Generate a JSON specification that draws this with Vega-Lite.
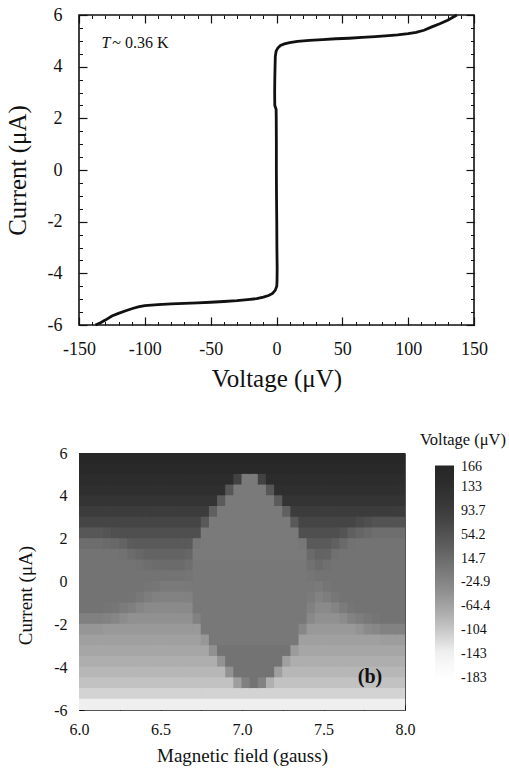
{
"$schema":"https://vega.github.io/schema/vega-lite/v6.json",
"padding":{"left":4,"top":5,"right":0,"bottom":0},
"spacing":39,
"resolve":{"scale":{"color":"independent"},"legend":{"color":"independent"}},
"vconcat":[
{
"width":395,"height":310,
"data":{"values":[
{"v":-137.5,"c":-6},{"v":-134,"c":-5.92},{"v":-130,"c":-5.81},{"v":-125,"c":-5.65},{"v":-120,"c":-5.55},{"v":-115,"c":-5.46},{"v":-110,"c":-5.37},{"v":-105,"c":-5.3},{"v":-100,"c":-5.25},{"v":-90,"c":-5.21},{"v":-80,"c":-5.18},{"v":-70,"c":-5.16},{"v":-60,"c":-5.14},{"v":-50,"c":-5.12},{"v":-40,"c":-5.09},{"v":-30,"c":-5.06},{"v":-22,"c":-5.02},{"v":-15,"c":-4.98},{"v":-10,"c":-4.92},{"v":-6,"c":-4.86},{"v":-3,"c":-4.78},{"v":-1,"c":-4.66},{"v":0.2,"c":-4.5},{"v":0.4,"c":-4.3},{"v":0.5,"c":-3.8},{"v":0.3,"c":-3},{"v":0.2,"c":-2},{"v":0,"c":-1},{"v":-0.1,"c":0},{"v":-0.1,"c":1},{"v":-0.2,"c":2},{"v":-0.3,"c":2.35},{"v":-1.3,"c":2.5},{"v":-1.4,"c":3},{"v":-1.3,"c":3.5},{"v":-1.1,"c":4},{"v":-0.9,"c":4.4},{"v":-0.3,"c":4.6},{"v":1,"c":4.72},{"v":3,"c":4.82},{"v":6,"c":4.88},{"v":10,"c":4.93},{"v":16,"c":4.98},{"v":25,"c":5.02},{"v":35,"c":5.05},{"v":45,"c":5.08},{"v":55,"c":5.1},{"v":65,"c":5.13},{"v":75,"c":5.16},{"v":85,"c":5.2},{"v":92,"c":5.23},{"v":100,"c":5.28},{"v":106,"c":5.33},{"v":112,"c":5.41},{"v":118,"c":5.54},{"v":124,"c":5.66},{"v":130,"c":5.8},{"v":136,"c":5.97},{"v":137,"c":6}
]},
"layer":[
{"mark":{"type":"line","color":"#111","strokeWidth":2.8},
 "encoding":{
  "x":{"field":"v","type":"quantitative","scale":{"domain":[-150,150],"nice":false,"zero":false},
   "axis":{"orient":"bottom","values":[-150,-100,-50,0,50,100,150],"tickSize":-8,"tickWidth":1.2,"labelPadding":23,"labelFontSize":18,"labelExpr":"''+datum.value","labelFlush":false,"labelOverlap":false,"title":"Voltage (μV)","titleFontSize":25,"titlePadding":8}},
  "y":{"field":"c","type":"quantitative","scale":{"domain":[-6,6],"nice":false,"zero":false},
   "axis":{"orient":"left","values":[-6,-4,-2,0,2,4,6],"tickSize":-8,"tickWidth":1.2,"labelPadding":25,"labelFontSize":18,"labelExpr":"''+datum.value","labelFlush":false,"labelOverlap":false,"title":"Current (μA)","titleFontSize":25,"titlePadding":17}},
  "order":{"field":"c","type":"quantitative"}}},
{"mark":{"type":"line","strokeOpacity":0},
 "encoding":{
  "x":{"field":"v","type":"quantitative","scale":{"domain":[-150,150],"nice":false,"zero":false},
   "axis":{"orient":"bottom","values":[-150,-140,-130,-120,-110,-100,-90,-80,-70,-60,-50,-40,-30,-20,-10,0,10,20,30,40,50,60,70,80,90,100,110,120,130,140,150],"tickSize":-3.5,"labels":false,"title":null}},
  "y":{"field":"c","type":"quantitative","scale":{"domain":[-6,6],"nice":false,"zero":false},
   "axis":{"orient":"left","values":[-6,-5.5,-5,-4.5,-4,-3.5,-3,-2.5,-2,-1.5,-1,-0.5,0,0.5,1,1.5,2,2.5,3,3.5,4,4.5,5,5.5,6],"tickSize":-3.5,"labels":false,"title":null}}}},
{"mark":{"type":"line","strokeOpacity":0},
 "encoding":{
  "x":{"field":"v","type":"quantitative","scale":{"domain":[-150,150],"nice":false,"zero":false},
   "axis":{"orient":"top","values":[-150,-100,-50,0,50,100,150],"tickSize":-8,"tickWidth":1.2,"labels":false,"title":null}},
  "y":{"field":"c","type":"quantitative","scale":{"domain":[-6,6],"nice":false,"zero":false},
   "axis":{"orient":"right","values":[-6,-4,-2,0,2,4,6],"tickSize":-8,"tickWidth":1.2,"labels":false,"title":null}}}},
{"mark":{"type":"line","strokeOpacity":0},
 "encoding":{
  "x":{"field":"v","type":"quantitative","scale":{"domain":[-150,150],"nice":false,"zero":false},
   "axis":{"orient":"top","values":[-150,-140,-130,-120,-110,-100,-90,-80,-70,-60,-50,-40,-30,-20,-10,0,10,20,30,40,50,60,70,80,90,100,110,120,130,140,150],"tickSize":-3.5,"labels":false,"title":null}},
  "y":{"field":"c","type":"quantitative","scale":{"domain":[-6,6],"nice":false,"zero":false},
   "axis":{"orient":"right","values":[-6,-5.5,-5,-4.5,-4,-3.5,-3,-2.5,-2,-1.5,-1,-0.5,0,0.5,1,1.5,2,2.5,3,3.5,4,4.5,5,5.5,6],"tickSize":-3.5,"labels":false,"title":null}}}},
{"data":{"values":[{}]},
 "mark":{"type":"text","text":"T","fontStyle":"italic","fontSize":16,"align":"left","baseline":"alphabetic","color":"#111"},
 "encoding":{"x":{"datum":-133,"type":"quantitative","axis":null},"y":{"datum":4.72,"type":"quantitative","axis":null}}},
{"data":{"values":[{}]},
 "mark":{"type":"text","text":"~ 0.36 K","fontSize":16,"align":"left","baseline":"alphabetic","color":"#111"},
 "encoding":{"x":{"datum":-124.7,"type":"quantitative","axis":null},"y":{"datum":4.72,"type":"quantitative","axis":null}}}
],
"resolve":{"axis":{"x":"independent","y":"independent"}}
},
{
"width":326,"height":257,
"view":{"stroke":"#555","strokeWidth":1},
"data":{"values":[
{"b":6.025,"i":5.75,"v":165},{"b":6.025,"i":5.25,"v":155},{"b":6.025,"i":4.75,"v":143},{"b":6.025,"i":4.25,"v":130},{"b":6.025,"i":3.75,"v":115},{"b":6.025,"i":3.25,"v":95},{"b":6.025,"i":2.75,"v":78},{"b":6.025,"i":2.25,"v":46},{"b":6.025,"i":1.75,"v":13},{"b":6.025,"i":1.25,"v":3},{"b":6.025,"i":0.75,"v":3},{"b":6.025,"i":0.25,"v":3},{"b":6.025,"i":-0.25,"v":3},{"b":6.025,"i":-0.75,"v":3},{"b":6.025,"i":-1.25,"v":3},{"b":6.025,"i":-1.75,"v":-17},{"b":6.025,"i":-2.25,"v":-48},{"b":6.025,"i":-2.75,"v":-60},{"b":6.025,"i":-3.25,"v":-68},{"b":6.025,"i":-3.75,"v":-76},{"b":6.025,"i":-4.25,"v":-86},{"b":6.025,"i":-4.75,"v":-98},{"b":6.025,"i":-5.25,"v":-114},{"b":6.025,"i":-5.75,"v":-140},
{"b":6.075,"i":5.75,"v":165},{"b":6.075,"i":5.25,"v":155},{"b":6.075,"i":4.75,"v":143},{"b":6.075,"i":4.25,"v":130},{"b":6.075,"i":3.75,"v":115},{"b":6.075,"i":3.25,"v":95},{"b":6.075,"i":2.75,"v":78},{"b":6.075,"i":2.25,"v":46},{"b":6.075,"i":1.75,"v":13},{"b":6.075,"i":1.25,"v":3},{"b":6.075,"i":0.75,"v":3},{"b":6.075,"i":0.25,"v":3},{"b":6.075,"i":-0.25,"v":3},{"b":6.075,"i":-0.75,"v":3},{"b":6.075,"i":-1.25,"v":3},{"b":6.075,"i":-1.75,"v":-17},{"b":6.075,"i":-2.25,"v":-48},{"b":6.075,"i":-2.75,"v":-60},{"b":6.075,"i":-3.25,"v":-68},{"b":6.075,"i":-3.75,"v":-76},{"b":6.075,"i":-4.25,"v":-86},{"b":6.075,"i":-4.75,"v":-98},{"b":6.075,"i":-5.25,"v":-114},{"b":6.075,"i":-5.75,"v":-140},
{"b":6.125,"i":5.75,"v":165},{"b":6.125,"i":5.25,"v":155},{"b":6.125,"i":4.75,"v":143},{"b":6.125,"i":4.25,"v":130},{"b":6.125,"i":3.75,"v":115},{"b":6.125,"i":3.25,"v":95},{"b":6.125,"i":2.75,"v":78},{"b":6.125,"i":2.25,"v":46},{"b":6.125,"i":1.75,"v":13},{"b":6.125,"i":1.25,"v":3},{"b":6.125,"i":0.75,"v":3},{"b":6.125,"i":0.25,"v":3},{"b":6.125,"i":-0.25,"v":3},{"b":6.125,"i":-0.75,"v":3},{"b":6.125,"i":-1.25,"v":3},{"b":6.125,"i":-1.75,"v":-17},{"b":6.125,"i":-2.25,"v":-48},{"b":6.125,"i":-2.75,"v":-60},{"b":6.125,"i":-3.25,"v":-68},{"b":6.125,"i":-3.75,"v":-76},{"b":6.125,"i":-4.25,"v":-86},{"b":6.125,"i":-4.75,"v":-98},{"b":6.125,"i":-5.25,"v":-114},{"b":6.125,"i":-5.75,"v":-140},
{"b":6.175,"i":5.75,"v":165},{"b":6.175,"i":5.25,"v":155},{"b":6.175,"i":4.75,"v":143},{"b":6.175,"i":4.25,"v":130},{"b":6.175,"i":3.75,"v":115},{"b":6.175,"i":3.25,"v":95},{"b":6.175,"i":2.75,"v":78},{"b":6.175,"i":2.25,"v":51},{"b":6.175,"i":1.75,"v":17},{"b":6.175,"i":1.25,"v":3},{"b":6.175,"i":0.75,"v":3},{"b":6.175,"i":0.25,"v":3},{"b":6.175,"i":-0.25,"v":3},{"b":6.175,"i":-0.75,"v":3},{"b":6.175,"i":-1.25,"v":1},{"b":6.175,"i":-1.75,"v":-21},{"b":6.175,"i":-2.25,"v":-51},{"b":6.175,"i":-2.75,"v":-60},{"b":6.175,"i":-3.25,"v":-68},{"b":6.175,"i":-3.75,"v":-76},{"b":6.175,"i":-4.25,"v":-86},{"b":6.175,"i":-4.75,"v":-98},{"b":6.175,"i":-5.25,"v":-114},{"b":6.175,"i":-5.75,"v":-140},
{"b":6.225,"i":5.75,"v":165},{"b":6.225,"i":5.25,"v":155},{"b":6.225,"i":4.75,"v":143},{"b":6.225,"i":4.25,"v":130},{"b":6.225,"i":3.75,"v":115},{"b":6.225,"i":3.25,"v":95},{"b":6.225,"i":2.75,"v":78},{"b":6.225,"i":2.25,"v":57},{"b":6.225,"i":1.75,"v":21},{"b":6.225,"i":1.25,"v":3},{"b":6.225,"i":0.75,"v":3},{"b":6.225,"i":0.25,"v":3},{"b":6.225,"i":-0.25,"v":3},{"b":6.225,"i":-0.75,"v":3},{"b":6.225,"i":-1.25,"v":-2},{"b":6.225,"i":-1.75,"v":-26},{"b":6.225,"i":-2.25,"v":-51},{"b":6.225,"i":-2.75,"v":-60},{"b":6.225,"i":-3.25,"v":-68},{"b":6.225,"i":-3.75,"v":-76},{"b":6.225,"i":-4.25,"v":-86},{"b":6.225,"i":-4.75,"v":-98},{"b":6.225,"i":-5.25,"v":-114},{"b":6.225,"i":-5.75,"v":-140},
{"b":6.275,"i":5.75,"v":165},{"b":6.275,"i":5.25,"v":155},{"b":6.275,"i":4.75,"v":143},{"b":6.275,"i":4.25,"v":130},{"b":6.275,"i":3.75,"v":115},{"b":6.275,"i":3.25,"v":95},{"b":6.275,"i":2.75,"v":78},{"b":6.275,"i":2.25,"v":60},{"b":6.275,"i":1.75,"v":28},{"b":6.275,"i":1.25,"v":7},{"b":6.275,"i":0.75,"v":3},{"b":6.275,"i":0.25,"v":3},{"b":6.275,"i":-0.25,"v":3},{"b":6.275,"i":-0.75,"v":3},{"b":6.275,"i":-1.25,"v":-9},{"b":6.275,"i":-1.75,"v":-34},{"b":6.275,"i":-2.25,"v":-51},{"b":6.275,"i":-2.75,"v":-60},{"b":6.275,"i":-3.25,"v":-68},{"b":6.275,"i":-3.75,"v":-76},{"b":6.275,"i":-4.25,"v":-86},{"b":6.275,"i":-4.75,"v":-98},{"b":6.275,"i":-5.25,"v":-114},{"b":6.275,"i":-5.75,"v":-140},
{"b":6.325,"i":5.75,"v":165},{"b":6.325,"i":5.25,"v":155},{"b":6.325,"i":4.75,"v":143},{"b":6.325,"i":4.25,"v":130},{"b":6.325,"i":3.75,"v":115},{"b":6.325,"i":3.25,"v":95},{"b":6.325,"i":2.75,"v":78},{"b":6.325,"i":2.25,"v":60},{"b":6.325,"i":1.75,"v":40},{"b":6.325,"i":1.25,"v":14},{"b":6.325,"i":0.75,"v":3},{"b":6.325,"i":0.25,"v":3},{"b":6.325,"i":-0.25,"v":3},{"b":6.325,"i":-0.75,"v":2},{"b":6.325,"i":-1.25,"v":-16},{"b":6.325,"i":-1.75,"v":-41},{"b":6.325,"i":-2.25,"v":-51},{"b":6.325,"i":-2.75,"v":-60},{"b":6.325,"i":-3.25,"v":-68},{"b":6.325,"i":-3.75,"v":-76},{"b":6.325,"i":-4.25,"v":-86},{"b":6.325,"i":-4.75,"v":-98},{"b":6.325,"i":-5.25,"v":-114},{"b":6.325,"i":-5.75,"v":-140},
{"b":6.375,"i":5.75,"v":165},{"b":6.375,"i":5.25,"v":155},{"b":6.375,"i":4.75,"v":143},{"b":6.375,"i":4.25,"v":130},{"b":6.375,"i":3.75,"v":115},{"b":6.375,"i":3.25,"v":95},{"b":6.375,"i":2.75,"v":78},{"b":6.375,"i":2.25,"v":60},{"b":6.375,"i":1.75,"v":42},{"b":6.375,"i":1.25,"v":22},{"b":6.375,"i":0.75,"v":6},{"b":6.375,"i":0.25,"v":3},{"b":6.375,"i":-0.25,"v":3},{"b":6.375,"i":-0.75,"v":-5},{"b":6.375,"i":-1.25,"v":-26},{"b":6.375,"i":-1.75,"v":-41},{"b":6.375,"i":-2.25,"v":-51},{"b":6.375,"i":-2.75,"v":-60},{"b":6.375,"i":-3.25,"v":-68},{"b":6.375,"i":-3.75,"v":-76},{"b":6.375,"i":-4.25,"v":-86},{"b":6.375,"i":-4.75,"v":-98},{"b":6.375,"i":-5.25,"v":-114},{"b":6.375,"i":-5.75,"v":-140},
{"b":6.425,"i":5.75,"v":165},{"b":6.425,"i":5.25,"v":155},{"b":6.425,"i":4.75,"v":143},{"b":6.425,"i":4.25,"v":130},{"b":6.425,"i":3.75,"v":115},{"b":6.425,"i":3.25,"v":95},{"b":6.425,"i":2.75,"v":78},{"b":6.425,"i":2.25,"v":60},{"b":6.425,"i":1.75,"v":42},{"b":6.425,"i":1.25,"v":28},{"b":6.425,"i":0.75,"v":11},{"b":6.425,"i":0.25,"v":3},{"b":6.425,"i":-0.25,"v":1},{"b":6.425,"i":-0.75,"v":-12},{"b":6.425,"i":-1.25,"v":-31},{"b":6.425,"i":-1.75,"v":-41},{"b":6.425,"i":-2.25,"v":-51},{"b":6.425,"i":-2.75,"v":-60},{"b":6.425,"i":-3.25,"v":-68},{"b":6.425,"i":-3.75,"v":-76},{"b":6.425,"i":-4.25,"v":-86},{"b":6.425,"i":-4.75,"v":-98},{"b":6.425,"i":-5.25,"v":-114},{"b":6.425,"i":-5.75,"v":-140},
{"b":6.475,"i":5.75,"v":165},{"b":6.475,"i":5.25,"v":155},{"b":6.475,"i":4.75,"v":143},{"b":6.475,"i":4.25,"v":130},{"b":6.475,"i":3.75,"v":115},{"b":6.475,"i":3.25,"v":95},{"b":6.475,"i":2.75,"v":78},{"b":6.475,"i":2.25,"v":60},{"b":6.475,"i":1.75,"v":42},{"b":6.475,"i":1.25,"v":28},{"b":6.475,"i":0.75,"v":15},{"b":6.475,"i":0.25,"v":3},{"b":6.475,"i":-0.25,"v":-2},{"b":6.475,"i":-0.75,"v":-19},{"b":6.475,"i":-1.25,"v":-31},{"b":6.475,"i":-1.75,"v":-41},{"b":6.475,"i":-2.25,"v":-51},{"b":6.475,"i":-2.75,"v":-60},{"b":6.475,"i":-3.25,"v":-68},{"b":6.475,"i":-3.75,"v":-76},{"b":6.475,"i":-4.25,"v":-86},{"b":6.475,"i":-4.75,"v":-98},{"b":6.475,"i":-5.25,"v":-114},{"b":6.475,"i":-5.75,"v":-140},
{"b":6.525,"i":5.75,"v":165},{"b":6.525,"i":5.25,"v":155},{"b":6.525,"i":4.75,"v":143},{"b":6.525,"i":4.25,"v":130},{"b":6.525,"i":3.75,"v":115},{"b":6.525,"i":3.25,"v":95},{"b":6.525,"i":2.75,"v":78},{"b":6.525,"i":2.25,"v":60},{"b":6.525,"i":1.75,"v":42},{"b":6.525,"i":1.25,"v":28},{"b":6.525,"i":0.75,"v":16},{"b":6.525,"i":0.25,"v":4},{"b":6.525,"i":-0.25,"v":-8},{"b":6.525,"i":-0.75,"v":-20},{"b":6.525,"i":-1.25,"v":-31},{"b":6.525,"i":-1.75,"v":-41},{"b":6.525,"i":-2.25,"v":-51},{"b":6.525,"i":-2.75,"v":-60},{"b":6.525,"i":-3.25,"v":-68},{"b":6.525,"i":-3.75,"v":-76},{"b":6.525,"i":-4.25,"v":-86},{"b":6.525,"i":-4.75,"v":-98},{"b":6.525,"i":-5.25,"v":-114},{"b":6.525,"i":-5.75,"v":-140},
{"b":6.575,"i":5.75,"v":165},{"b":6.575,"i":5.25,"v":155},{"b":6.575,"i":4.75,"v":143},{"b":6.575,"i":4.25,"v":130},{"b":6.575,"i":3.75,"v":115},{"b":6.575,"i":3.25,"v":95},{"b":6.575,"i":2.75,"v":78},{"b":6.575,"i":2.25,"v":60},{"b":6.575,"i":1.75,"v":42},{"b":6.575,"i":1.25,"v":28},{"b":6.575,"i":0.75,"v":16},{"b":6.575,"i":0.25,"v":4},{"b":6.575,"i":-0.25,"v":-8},{"b":6.575,"i":-0.75,"v":-20},{"b":6.575,"i":-1.25,"v":-31},{"b":6.575,"i":-1.75,"v":-41},{"b":6.575,"i":-2.25,"v":-51},{"b":6.575,"i":-2.75,"v":-60},{"b":6.575,"i":-3.25,"v":-68},{"b":6.575,"i":-3.75,"v":-76},{"b":6.575,"i":-4.25,"v":-86},{"b":6.575,"i":-4.75,"v":-98},{"b":6.575,"i":-5.25,"v":-114},{"b":6.575,"i":-5.75,"v":-140},
{"b":6.625,"i":5.75,"v":165},{"b":6.625,"i":5.25,"v":155},{"b":6.625,"i":4.75,"v":143},{"b":6.625,"i":4.25,"v":130},{"b":6.625,"i":3.75,"v":115},{"b":6.625,"i":3.25,"v":95},{"b":6.625,"i":2.75,"v":78},{"b":6.625,"i":2.25,"v":60},{"b":6.625,"i":1.75,"v":42},{"b":6.625,"i":1.25,"v":28},{"b":6.625,"i":0.75,"v":16},{"b":6.625,"i":0.25,"v":4},{"b":6.625,"i":-0.25,"v":-8},{"b":6.625,"i":-0.75,"v":-20},{"b":6.625,"i":-1.25,"v":-31},{"b":6.625,"i":-1.75,"v":-41},{"b":6.625,"i":-2.25,"v":-51},{"b":6.625,"i":-2.75,"v":-60},{"b":6.625,"i":-3.25,"v":-68},{"b":6.625,"i":-3.75,"v":-76},{"b":6.625,"i":-4.25,"v":-86},{"b":6.625,"i":-4.75,"v":-98},{"b":6.625,"i":-5.25,"v":-114},{"b":6.625,"i":-5.75,"v":-140},
{"b":6.675,"i":5.75,"v":165},{"b":6.675,"i":5.25,"v":155},{"b":6.675,"i":4.75,"v":143},{"b":6.675,"i":4.25,"v":130},{"b":6.675,"i":3.75,"v":115},{"b":6.675,"i":3.25,"v":95},{"b":6.675,"i":2.75,"v":78},{"b":6.675,"i":2.25,"v":60},{"b":6.675,"i":1.75,"v":42},{"b":6.675,"i":1.25,"v":23},{"b":6.675,"i":0.75,"v":10},{"b":6.675,"i":0.25,"v":1},{"b":6.675,"i":-0.25,"v":-6},{"b":6.675,"i":-0.75,"v":-18},{"b":6.675,"i":-1.25,"v":-31},{"b":6.675,"i":-1.75,"v":-41},{"b":6.675,"i":-2.25,"v":-51},{"b":6.675,"i":-2.75,"v":-60},{"b":6.675,"i":-3.25,"v":-68},{"b":6.675,"i":-3.75,"v":-76},{"b":6.675,"i":-4.25,"v":-86},{"b":6.675,"i":-4.75,"v":-98},{"b":6.675,"i":-5.25,"v":-114},{"b":6.675,"i":-5.75,"v":-140},
{"b":6.725,"i":5.75,"v":165},{"b":6.725,"i":5.25,"v":155},{"b":6.725,"i":4.75,"v":143},{"b":6.725,"i":4.25,"v":130},{"b":6.725,"i":3.75,"v":115},{"b":6.725,"i":3.25,"v":95},{"b":6.725,"i":2.75,"v":78},{"b":6.725,"i":2.25,"v":60},{"b":6.725,"i":1.75,"v":-3},{"b":6.725,"i":1.25,"v":-8},{"b":6.725,"i":0.75,"v":-4},{"b":6.725,"i":0.25,"v":-4},{"b":6.725,"i":-0.25,"v":-4},{"b":6.725,"i":-0.75,"v":-4},{"b":6.725,"i":-1.25,"v":-4},{"b":6.725,"i":-1.75,"v":-19},{"b":6.725,"i":-2.25,"v":-51},{"b":6.725,"i":-2.75,"v":-60},{"b":6.725,"i":-3.25,"v":-68},{"b":6.725,"i":-3.75,"v":-76},{"b":6.725,"i":-4.25,"v":-86},{"b":6.725,"i":-4.75,"v":-98},{"b":6.725,"i":-5.25,"v":-114},{"b":6.725,"i":-5.75,"v":-140},
{"b":6.775,"i":5.75,"v":165},{"b":6.775,"i":5.25,"v":155},{"b":6.775,"i":4.75,"v":143},{"b":6.775,"i":4.25,"v":130},{"b":6.775,"i":3.75,"v":115},{"b":6.775,"i":3.25,"v":95},{"b":6.775,"i":2.75,"v":44},{"b":6.775,"i":2.25,"v":-8},{"b":6.775,"i":1.75,"v":-8},{"b":6.775,"i":1.25,"v":-8},{"b":6.775,"i":0.75,"v":-4},{"b":6.775,"i":0.25,"v":-4},{"b":6.775,"i":-0.25,"v":-4},{"b":6.775,"i":-0.75,"v":-4},{"b":6.775,"i":-1.25,"v":-4},{"b":6.775,"i":-1.75,"v":-4},{"b":6.775,"i":-2.25,"v":-4},{"b":6.775,"i":-2.75,"v":-49},{"b":6.775,"i":-3.25,"v":-68},{"b":6.775,"i":-3.75,"v":-76},{"b":6.775,"i":-4.25,"v":-86},{"b":6.775,"i":-4.75,"v":-98},{"b":6.775,"i":-5.25,"v":-114},{"b":6.775,"i":-5.75,"v":-140},
{"b":6.825,"i":5.75,"v":165},{"b":6.825,"i":5.25,"v":155},{"b":6.825,"i":4.75,"v":143},{"b":6.825,"i":4.25,"v":130},{"b":6.825,"i":3.75,"v":115},{"b":6.825,"i":3.25,"v":33},{"b":6.825,"i":2.75,"v":-8},{"b":6.825,"i":2.25,"v":-8},{"b":6.825,"i":1.75,"v":-8},{"b":6.825,"i":1.25,"v":-8},{"b":6.825,"i":0.75,"v":-4},{"b":6.825,"i":0.25,"v":-4},{"b":6.825,"i":-0.25,"v":-4},{"b":6.825,"i":-0.75,"v":-4},{"b":6.825,"i":-1.25,"v":-4},{"b":6.825,"i":-1.75,"v":-4},{"b":6.825,"i":-2.25,"v":-4},{"b":6.825,"i":-2.75,"v":-4},{"b":6.825,"i":-3.25,"v":-40},{"b":6.825,"i":-3.75,"v":-76},{"b":6.825,"i":-4.25,"v":-86},{"b":6.825,"i":-4.75,"v":-98},{"b":6.825,"i":-5.25,"v":-114},{"b":6.825,"i":-5.75,"v":-140},
{"b":6.875,"i":5.75,"v":165},{"b":6.875,"i":5.25,"v":155},{"b":6.875,"i":4.75,"v":143},{"b":6.875,"i":4.25,"v":130},{"b":6.875,"i":3.75,"v":41},{"b":6.875,"i":3.25,"v":-8},{"b":6.875,"i":2.75,"v":-8},{"b":6.875,"i":2.25,"v":-8},{"b":6.875,"i":1.75,"v":-8},{"b":6.875,"i":1.25,"v":-8},{"b":6.875,"i":0.75,"v":-4},{"b":6.875,"i":0.25,"v":-4},{"b":6.875,"i":-0.25,"v":-4},{"b":6.875,"i":-0.75,"v":-4},{"b":6.875,"i":-1.25,"v":-4},{"b":6.875,"i":-1.75,"v":-4},{"b":6.875,"i":-2.25,"v":-4},{"b":6.875,"i":-2.75,"v":-4},{"b":6.875,"i":-3.25,"v":3},{"b":6.875,"i":-3.75,"v":-44},{"b":6.875,"i":-4.25,"v":-86},{"b":6.875,"i":-4.75,"v":-98},{"b":6.875,"i":-5.25,"v":-114},{"b":6.875,"i":-5.75,"v":-140},
{"b":6.925,"i":5.75,"v":165},{"b":6.925,"i":5.25,"v":155},{"b":6.925,"i":4.75,"v":143},{"b":6.925,"i":4.25,"v":47},{"b":6.925,"i":3.75,"v":-8},{"b":6.925,"i":3.25,"v":-8},{"b":6.925,"i":2.75,"v":-8},{"b":6.925,"i":2.25,"v":-8},{"b":6.925,"i":1.75,"v":-8},{"b":6.925,"i":1.25,"v":-8},{"b":6.925,"i":0.75,"v":-4},{"b":6.925,"i":0.25,"v":-4},{"b":6.925,"i":-0.25,"v":-4},{"b":6.925,"i":-0.75,"v":-4},{"b":6.925,"i":-1.25,"v":-4},{"b":6.925,"i":-1.75,"v":-4},{"b":6.925,"i":-2.25,"v":-4},{"b":6.925,"i":-2.75,"v":-4},{"b":6.925,"i":-3.25,"v":3},{"b":6.925,"i":-3.75,"v":3},{"b":6.925,"i":-4.25,"v":-42},{"b":6.925,"i":-4.75,"v":-98},{"b":6.925,"i":-5.25,"v":-114},{"b":6.925,"i":-5.75,"v":-140},
{"b":6.975,"i":5.75,"v":165},{"b":6.975,"i":5.25,"v":155},{"b":6.975,"i":4.75,"v":83},{"b":6.975,"i":4.25,"v":-8},{"b":6.975,"i":3.75,"v":-8},{"b":6.975,"i":3.25,"v":-8},{"b":6.975,"i":2.75,"v":-8},{"b":6.975,"i":2.25,"v":-8},{"b":6.975,"i":1.75,"v":-8},{"b":6.975,"i":1.25,"v":-8},{"b":6.975,"i":0.75,"v":-4},{"b":6.975,"i":0.25,"v":-4},{"b":6.975,"i":-0.25,"v":-4},{"b":6.975,"i":-0.75,"v":-4},{"b":6.975,"i":-1.25,"v":-4},{"b":6.975,"i":-1.75,"v":-4},{"b":6.975,"i":-2.25,"v":-4},{"b":6.975,"i":-2.75,"v":-4},{"b":6.975,"i":-3.25,"v":3},{"b":6.975,"i":-3.75,"v":3},{"b":6.975,"i":-4.25,"v":3},{"b":6.975,"i":-4.75,"v":-58},{"b":6.975,"i":-5.25,"v":-114},{"b":6.975,"i":-5.75,"v":-140},
{"b":7.025,"i":5.75,"v":165},{"b":7.025,"i":5.25,"v":155},{"b":7.025,"i":4.75,"v":-8},{"b":7.025,"i":4.25,"v":-8},{"b":7.025,"i":3.75,"v":-8},{"b":7.025,"i":3.25,"v":-8},{"b":7.025,"i":2.75,"v":-8},{"b":7.025,"i":2.25,"v":-8},{"b":7.025,"i":1.75,"v":-8},{"b":7.025,"i":1.25,"v":-8},{"b":7.025,"i":0.75,"v":-4},{"b":7.025,"i":0.25,"v":-4},{"b":7.025,"i":-0.25,"v":-4},{"b":7.025,"i":-0.75,"v":-4},{"b":7.025,"i":-1.25,"v":-4},{"b":7.025,"i":-1.75,"v":-4},{"b":7.025,"i":-2.25,"v":-4},{"b":7.025,"i":-2.75,"v":-4},{"b":7.025,"i":-3.25,"v":3},{"b":7.025,"i":-3.75,"v":3},{"b":7.025,"i":-4.25,"v":3},{"b":7.025,"i":-4.75,"v":-17},{"b":7.025,"i":-5.25,"v":-114},{"b":7.025,"i":-5.75,"v":-140},
{"b":7.075,"i":5.75,"v":165},{"b":7.075,"i":5.25,"v":155},{"b":7.075,"i":4.75,"v":-8},{"b":7.075,"i":4.25,"v":-8},{"b":7.075,"i":3.75,"v":-8},{"b":7.075,"i":3.25,"v":-8},{"b":7.075,"i":2.75,"v":-8},{"b":7.075,"i":2.25,"v":-8},{"b":7.075,"i":1.75,"v":-8},{"b":7.075,"i":1.25,"v":-8},{"b":7.075,"i":0.75,"v":-4},{"b":7.075,"i":0.25,"v":-4},{"b":7.075,"i":-0.25,"v":-4},{"b":7.075,"i":-0.75,"v":-4},{"b":7.075,"i":-1.25,"v":-4},{"b":7.075,"i":-1.75,"v":-4},{"b":7.075,"i":-2.25,"v":-4},{"b":7.075,"i":-2.75,"v":-4},{"b":7.075,"i":-3.25,"v":3},{"b":7.075,"i":-3.75,"v":3},{"b":7.075,"i":-4.25,"v":3},{"b":7.075,"i":-4.75,"v":3},{"b":7.075,"i":-5.25,"v":-114},{"b":7.075,"i":-5.75,"v":-140},
{"b":7.125,"i":5.75,"v":165},{"b":7.125,"i":5.25,"v":155},{"b":7.125,"i":4.75,"v":83},{"b":7.125,"i":4.25,"v":-8},{"b":7.125,"i":3.75,"v":-8},{"b":7.125,"i":3.25,"v":-8},{"b":7.125,"i":2.75,"v":-8},{"b":7.125,"i":2.25,"v":-8},{"b":7.125,"i":1.75,"v":-8},{"b":7.125,"i":1.25,"v":-8},{"b":7.125,"i":0.75,"v":-4},{"b":7.125,"i":0.25,"v":-4},{"b":7.125,"i":-0.25,"v":-4},{"b":7.125,"i":-0.75,"v":-4},{"b":7.125,"i":-1.25,"v":-4},{"b":7.125,"i":-1.75,"v":-4},{"b":7.125,"i":-2.25,"v":-4},{"b":7.125,"i":-2.75,"v":-4},{"b":7.125,"i":-3.25,"v":3},{"b":7.125,"i":-3.75,"v":3},{"b":7.125,"i":-4.25,"v":3},{"b":7.125,"i":-4.75,"v":-21},{"b":7.125,"i":-5.25,"v":-114},{"b":7.125,"i":-5.75,"v":-140},
{"b":7.175,"i":5.75,"v":165},{"b":7.175,"i":5.25,"v":155},{"b":7.175,"i":4.75,"v":143},{"b":7.175,"i":4.25,"v":47},{"b":7.175,"i":3.75,"v":-8},{"b":7.175,"i":3.25,"v":-8},{"b":7.175,"i":2.75,"v":-8},{"b":7.175,"i":2.25,"v":-8},{"b":7.175,"i":1.75,"v":-8},{"b":7.175,"i":1.25,"v":-8},{"b":7.175,"i":0.75,"v":-4},{"b":7.175,"i":0.25,"v":-4},{"b":7.175,"i":-0.25,"v":-4},{"b":7.175,"i":-0.75,"v":-4},{"b":7.175,"i":-1.25,"v":-4},{"b":7.175,"i":-1.75,"v":-4},{"b":7.175,"i":-2.25,"v":-4},{"b":7.175,"i":-2.75,"v":-4},{"b":7.175,"i":-3.25,"v":3},{"b":7.175,"i":-3.75,"v":3},{"b":7.175,"i":-4.25,"v":3},{"b":7.175,"i":-4.75,"v":-78},{"b":7.175,"i":-5.25,"v":-114},{"b":7.175,"i":-5.75,"v":-140},
{"b":7.225,"i":5.75,"v":165},{"b":7.225,"i":5.25,"v":155},{"b":7.225,"i":4.75,"v":143},{"b":7.225,"i":4.25,"v":130},{"b":7.225,"i":3.75,"v":41},{"b":7.225,"i":3.25,"v":-8},{"b":7.225,"i":2.75,"v":-8},{"b":7.225,"i":2.25,"v":-8},{"b":7.225,"i":1.75,"v":-8},{"b":7.225,"i":1.25,"v":-8},{"b":7.225,"i":0.75,"v":-4},{"b":7.225,"i":0.25,"v":-4},{"b":7.225,"i":-0.25,"v":-4},{"b":7.225,"i":-0.75,"v":-4},{"b":7.225,"i":-1.25,"v":-4},{"b":7.225,"i":-1.75,"v":-4},{"b":7.225,"i":-2.25,"v":-4},{"b":7.225,"i":-2.75,"v":-4},{"b":7.225,"i":-3.25,"v":3},{"b":7.225,"i":-3.75,"v":3},{"b":7.225,"i":-4.25,"v":-59},{"b":7.225,"i":-4.75,"v":-98},{"b":7.225,"i":-5.25,"v":-114},{"b":7.225,"i":-5.75,"v":-140},
{"b":7.275,"i":5.75,"v":165},{"b":7.275,"i":5.25,"v":155},{"b":7.275,"i":4.75,"v":143},{"b":7.275,"i":4.25,"v":130},{"b":7.275,"i":3.75,"v":115},{"b":7.275,"i":3.25,"v":33},{"b":7.275,"i":2.75,"v":-8},{"b":7.275,"i":2.25,"v":-8},{"b":7.275,"i":1.75,"v":-8},{"b":7.275,"i":1.25,"v":-8},{"b":7.275,"i":0.75,"v":-4},{"b":7.275,"i":0.25,"v":-4},{"b":7.275,"i":-0.25,"v":-4},{"b":7.275,"i":-0.75,"v":-4},{"b":7.275,"i":-1.25,"v":-4},{"b":7.275,"i":-1.75,"v":-4},{"b":7.275,"i":-2.25,"v":-4},{"b":7.275,"i":-2.75,"v":-4},{"b":7.275,"i":-3.25,"v":3},{"b":7.275,"i":-3.75,"v":-60},{"b":7.275,"i":-4.25,"v":-86},{"b":7.275,"i":-4.75,"v":-98},{"b":7.275,"i":-5.25,"v":-114},{"b":7.275,"i":-5.75,"v":-140},
{"b":7.325,"i":5.75,"v":165},{"b":7.325,"i":5.25,"v":155},{"b":7.325,"i":4.75,"v":143},{"b":7.325,"i":4.25,"v":130},{"b":7.325,"i":3.75,"v":115},{"b":7.325,"i":3.25,"v":95},{"b":7.325,"i":2.75,"v":44},{"b":7.325,"i":2.25,"v":-8},{"b":7.325,"i":1.75,"v":-8},{"b":7.325,"i":1.25,"v":-8},{"b":7.325,"i":0.75,"v":-4},{"b":7.325,"i":0.25,"v":-4},{"b":7.325,"i":-0.25,"v":-4},{"b":7.325,"i":-0.75,"v":-4},{"b":7.325,"i":-1.25,"v":-4},{"b":7.325,"i":-1.75,"v":-4},{"b":7.325,"i":-2.25,"v":-4},{"b":7.325,"i":-2.75,"v":-4},{"b":7.325,"i":-3.25,"v":-54},{"b":7.325,"i":-3.75,"v":-76},{"b":7.325,"i":-4.25,"v":-86},{"b":7.325,"i":-4.75,"v":-98},{"b":7.325,"i":-5.25,"v":-114},{"b":7.325,"i":-5.75,"v":-140},
{"b":7.375,"i":5.75,"v":165},{"b":7.375,"i":5.25,"v":155},{"b":7.375,"i":4.75,"v":143},{"b":7.375,"i":4.25,"v":130},{"b":7.375,"i":3.75,"v":115},{"b":7.375,"i":3.25,"v":95},{"b":7.375,"i":2.75,"v":78},{"b":7.375,"i":2.25,"v":60},{"b":7.375,"i":1.75,"v":-3},{"b":7.375,"i":1.25,"v":-8},{"b":7.375,"i":0.75,"v":-4},{"b":7.375,"i":0.25,"v":-4},{"b":7.375,"i":-0.25,"v":-4},{"b":7.375,"i":-0.75,"v":-4},{"b":7.375,"i":-1.25,"v":-4},{"b":7.375,"i":-1.75,"v":-4},{"b":7.375,"i":-2.25,"v":-28},{"b":7.375,"i":-2.75,"v":-60},{"b":7.375,"i":-3.25,"v":-68},{"b":7.375,"i":-3.75,"v":-76},{"b":7.375,"i":-4.25,"v":-86},{"b":7.375,"i":-4.75,"v":-98},{"b":7.375,"i":-5.25,"v":-114},{"b":7.375,"i":-5.75,"v":-140},
{"b":7.425,"i":5.75,"v":165},{"b":7.425,"i":5.25,"v":155},{"b":7.425,"i":4.75,"v":143},{"b":7.425,"i":4.25,"v":130},{"b":7.425,"i":3.75,"v":115},{"b":7.425,"i":3.25,"v":95},{"b":7.425,"i":2.75,"v":78},{"b":7.425,"i":2.25,"v":60},{"b":7.425,"i":1.75,"v":42},{"b":7.425,"i":1.25,"v":17},{"b":7.425,"i":0.75,"v":6},{"b":7.425,"i":0.25,"v":-2},{"b":7.425,"i":-0.25,"v":-5},{"b":7.425,"i":-0.75,"v":-10},{"b":7.425,"i":-1.25,"v":-18},{"b":7.425,"i":-1.75,"v":-30},{"b":7.425,"i":-2.25,"v":-51},{"b":7.425,"i":-2.75,"v":-60},{"b":7.425,"i":-3.25,"v":-68},{"b":7.425,"i":-3.75,"v":-76},{"b":7.425,"i":-4.25,"v":-86},{"b":7.425,"i":-4.75,"v":-98},{"b":7.425,"i":-5.25,"v":-114},{"b":7.425,"i":-5.75,"v":-140},
{"b":7.475,"i":5.75,"v":165},{"b":7.475,"i":5.25,"v":155},{"b":7.475,"i":4.75,"v":143},{"b":7.475,"i":4.25,"v":130},{"b":7.475,"i":3.75,"v":115},{"b":7.475,"i":3.25,"v":95},{"b":7.475,"i":2.75,"v":78},{"b":7.475,"i":2.25,"v":60},{"b":7.475,"i":1.75,"v":42},{"b":7.475,"i":1.25,"v":28},{"b":7.475,"i":0.75,"v":16},{"b":7.475,"i":0.25,"v":4},{"b":7.475,"i":-0.25,"v":-8},{"b":7.475,"i":-0.75,"v":-20},{"b":7.475,"i":-1.25,"v":-31},{"b":7.475,"i":-1.75,"v":-41},{"b":7.475,"i":-2.25,"v":-51},{"b":7.475,"i":-2.75,"v":-60},{"b":7.475,"i":-3.25,"v":-68},{"b":7.475,"i":-3.75,"v":-76},{"b":7.475,"i":-4.25,"v":-86},{"b":7.475,"i":-4.75,"v":-98},{"b":7.475,"i":-5.25,"v":-114},{"b":7.475,"i":-5.75,"v":-140},
{"b":7.525,"i":5.75,"v":165},{"b":7.525,"i":5.25,"v":155},{"b":7.525,"i":4.75,"v":143},{"b":7.525,"i":4.25,"v":130},{"b":7.525,"i":3.75,"v":115},{"b":7.525,"i":3.25,"v":95},{"b":7.525,"i":2.75,"v":78},{"b":7.525,"i":2.25,"v":60},{"b":7.525,"i":1.75,"v":42},{"b":7.525,"i":1.25,"v":27},{"b":7.525,"i":0.75,"v":9},{"b":7.525,"i":0.25,"v":3},{"b":7.525,"i":-0.25,"v":1},{"b":7.525,"i":-0.75,"v":-12},{"b":7.525,"i":-1.25,"v":-31},{"b":7.525,"i":-1.75,"v":-41},{"b":7.525,"i":-2.25,"v":-51},{"b":7.525,"i":-2.75,"v":-60},{"b":7.525,"i":-3.25,"v":-68},{"b":7.525,"i":-3.75,"v":-76},{"b":7.525,"i":-4.25,"v":-86},{"b":7.525,"i":-4.75,"v":-98},{"b":7.525,"i":-5.25,"v":-114},{"b":7.525,"i":-5.75,"v":-140},
{"b":7.575,"i":5.75,"v":165},{"b":7.575,"i":5.25,"v":155},{"b":7.575,"i":4.75,"v":143},{"b":7.575,"i":4.25,"v":130},{"b":7.575,"i":3.75,"v":115},{"b":7.575,"i":3.25,"v":95},{"b":7.575,"i":2.75,"v":78},{"b":7.575,"i":2.25,"v":60},{"b":7.575,"i":1.75,"v":32},{"b":7.575,"i":1.25,"v":9},{"b":7.575,"i":0.75,"v":3},{"b":7.575,"i":0.25,"v":3},{"b":7.575,"i":-0.25,"v":3},{"b":7.575,"i":-0.75,"v":-3},{"b":7.575,"i":-1.25,"v":-23},{"b":7.575,"i":-1.75,"v":-41},{"b":7.575,"i":-2.25,"v":-51},{"b":7.575,"i":-2.75,"v":-60},{"b":7.575,"i":-3.25,"v":-68},{"b":7.575,"i":-3.75,"v":-76},{"b":7.575,"i":-4.25,"v":-86},{"b":7.575,"i":-4.75,"v":-98},{"b":7.575,"i":-5.25,"v":-114},{"b":7.575,"i":-5.75,"v":-140},
{"b":7.625,"i":5.75,"v":165},{"b":7.625,"i":5.25,"v":155},{"b":7.625,"i":4.75,"v":143},{"b":7.625,"i":4.25,"v":130},{"b":7.625,"i":3.75,"v":115},{"b":7.625,"i":3.25,"v":95},{"b":7.625,"i":2.75,"v":78},{"b":7.625,"i":2.25,"v":51},{"b":7.625,"i":1.75,"v":17},{"b":7.625,"i":1.25,"v":3},{"b":7.625,"i":0.75,"v":3},{"b":7.625,"i":0.25,"v":3},{"b":7.625,"i":-0.25,"v":3},{"b":7.625,"i":-0.75,"v":3},{"b":7.625,"i":-1.25,"v":-9},{"b":7.625,"i":-1.75,"v":-34},{"b":7.625,"i":-2.25,"v":-51},{"b":7.625,"i":-2.75,"v":-60},{"b":7.625,"i":-3.25,"v":-68},{"b":7.625,"i":-3.75,"v":-76},{"b":7.625,"i":-4.25,"v":-86},{"b":7.625,"i":-4.75,"v":-98},{"b":7.625,"i":-5.25,"v":-114},{"b":7.625,"i":-5.75,"v":-140},
{"b":7.675,"i":5.75,"v":165},{"b":7.675,"i":5.25,"v":155},{"b":7.675,"i":4.75,"v":143},{"b":7.675,"i":4.25,"v":130},{"b":7.675,"i":3.75,"v":115},{"b":7.675,"i":3.25,"v":95},{"b":7.675,"i":2.75,"v":78},{"b":7.675,"i":2.25,"v":34},{"b":7.675,"i":1.75,"v":5},{"b":7.675,"i":1.25,"v":3},{"b":7.675,"i":0.75,"v":3},{"b":7.675,"i":0.25,"v":3},{"b":7.675,"i":-0.25,"v":3},{"b":7.675,"i":-0.75,"v":3},{"b":7.675,"i":-1.25,"v":1},{"b":7.675,"i":-1.75,"v":-21},{"b":7.675,"i":-2.25,"v":-51},{"b":7.675,"i":-2.75,"v":-60},{"b":7.675,"i":-3.25,"v":-68},{"b":7.675,"i":-3.75,"v":-76},{"b":7.675,"i":-4.25,"v":-86},{"b":7.675,"i":-4.75,"v":-98},{"b":7.675,"i":-5.25,"v":-114},{"b":7.675,"i":-5.75,"v":-140},
{"b":7.725,"i":5.75,"v":165},{"b":7.725,"i":5.25,"v":155},{"b":7.725,"i":4.75,"v":143},{"b":7.725,"i":4.25,"v":130},{"b":7.725,"i":3.75,"v":115},{"b":7.725,"i":3.25,"v":95},{"b":7.725,"i":2.75,"v":67},{"b":7.725,"i":2.25,"v":23},{"b":7.725,"i":1.75,"v":3},{"b":7.725,"i":1.25,"v":3},{"b":7.725,"i":0.75,"v":3},{"b":7.725,"i":0.25,"v":3},{"b":7.725,"i":-0.25,"v":3},{"b":7.725,"i":-0.75,"v":3},{"b":7.725,"i":-1.25,"v":3},{"b":7.725,"i":-1.75,"v":-12},{"b":7.725,"i":-2.25,"v":-43},{"b":7.725,"i":-2.75,"v":-60},{"b":7.725,"i":-3.25,"v":-68},{"b":7.725,"i":-3.75,"v":-76},{"b":7.725,"i":-4.25,"v":-86},{"b":7.725,"i":-4.75,"v":-98},{"b":7.725,"i":-5.25,"v":-114},{"b":7.725,"i":-5.75,"v":-140},
{"b":7.775,"i":5.75,"v":165},{"b":7.775,"i":5.25,"v":155},{"b":7.775,"i":4.75,"v":143},{"b":7.775,"i":4.25,"v":130},{"b":7.775,"i":3.75,"v":115},{"b":7.775,"i":3.25,"v":95},{"b":7.775,"i":2.75,"v":59},{"b":7.775,"i":2.25,"v":17},{"b":7.775,"i":1.75,"v":3},{"b":7.775,"i":1.25,"v":3},{"b":7.775,"i":0.75,"v":3},{"b":7.775,"i":0.25,"v":3},{"b":7.775,"i":-0.25,"v":3},{"b":7.775,"i":-0.75,"v":3},{"b":7.775,"i":-1.25,"v":3},{"b":7.775,"i":-1.75,"v":-4},{"b":7.775,"i":-2.25,"v":-32},{"b":7.775,"i":-2.75,"v":-60},{"b":7.775,"i":-3.25,"v":-68},{"b":7.775,"i":-3.75,"v":-76},{"b":7.775,"i":-4.25,"v":-86},{"b":7.775,"i":-4.75,"v":-98},{"b":7.775,"i":-5.25,"v":-114},{"b":7.775,"i":-5.75,"v":-140},
{"b":7.825,"i":5.75,"v":165},{"b":7.825,"i":5.25,"v":155},{"b":7.825,"i":4.75,"v":143},{"b":7.825,"i":4.25,"v":130},{"b":7.825,"i":3.75,"v":115},{"b":7.825,"i":3.25,"v":95},{"b":7.825,"i":2.75,"v":52},{"b":7.825,"i":2.25,"v":12},{"b":7.825,"i":1.75,"v":3},{"b":7.825,"i":1.25,"v":3},{"b":7.825,"i":0.75,"v":3},{"b":7.825,"i":0.25,"v":3},{"b":7.825,"i":-0.25,"v":3},{"b":7.825,"i":-0.75,"v":3},{"b":7.825,"i":-1.25,"v":3},{"b":7.825,"i":-1.75,"v":1},{"b":7.825,"i":-2.25,"v":-27},{"b":7.825,"i":-2.75,"v":-60},{"b":7.825,"i":-3.25,"v":-68},{"b":7.825,"i":-3.75,"v":-76},{"b":7.825,"i":-4.25,"v":-86},{"b":7.825,"i":-4.75,"v":-98},{"b":7.825,"i":-5.25,"v":-114},{"b":7.825,"i":-5.75,"v":-140},
{"b":7.875,"i":5.75,"v":165},{"b":7.875,"i":5.25,"v":155},{"b":7.875,"i":4.75,"v":143},{"b":7.875,"i":4.25,"v":130},{"b":7.875,"i":3.75,"v":115},{"b":7.875,"i":3.25,"v":95},{"b":7.875,"i":2.75,"v":52},{"b":7.875,"i":2.25,"v":12},{"b":7.875,"i":1.75,"v":3},{"b":7.875,"i":1.25,"v":3},{"b":7.875,"i":0.75,"v":3},{"b":7.875,"i":0.25,"v":3},{"b":7.875,"i":-0.25,"v":3},{"b":7.875,"i":-0.75,"v":3},{"b":7.875,"i":-1.25,"v":3},{"b":7.875,"i":-1.75,"v":3},{"b":7.875,"i":-2.25,"v":-21},{"b":7.875,"i":-2.75,"v":-57},{"b":7.875,"i":-3.25,"v":-68},{"b":7.875,"i":-3.75,"v":-76},{"b":7.875,"i":-4.25,"v":-86},{"b":7.875,"i":-4.75,"v":-98},{"b":7.875,"i":-5.25,"v":-114},{"b":7.875,"i":-5.75,"v":-140},
{"b":7.925,"i":5.75,"v":165},{"b":7.925,"i":5.25,"v":155},{"b":7.925,"i":4.75,"v":143},{"b":7.925,"i":4.25,"v":130},{"b":7.925,"i":3.75,"v":115},{"b":7.925,"i":3.25,"v":95},{"b":7.925,"i":2.75,"v":52},{"b":7.925,"i":2.25,"v":12},{"b":7.925,"i":1.75,"v":3},{"b":7.925,"i":1.25,"v":3},{"b":7.925,"i":0.75,"v":3},{"b":7.925,"i":0.25,"v":3},{"b":7.925,"i":-0.25,"v":3},{"b":7.925,"i":-0.75,"v":3},{"b":7.925,"i":-1.25,"v":3},{"b":7.925,"i":-1.75,"v":3},{"b":7.925,"i":-2.25,"v":-21},{"b":7.925,"i":-2.75,"v":-57},{"b":7.925,"i":-3.25,"v":-68},{"b":7.925,"i":-3.75,"v":-76},{"b":7.925,"i":-4.25,"v":-86},{"b":7.925,"i":-4.75,"v":-98},{"b":7.925,"i":-5.25,"v":-114},{"b":7.925,"i":-5.75,"v":-140},
{"b":7.975,"i":5.75,"v":165},{"b":7.975,"i":5.25,"v":155},{"b":7.975,"i":4.75,"v":143},{"b":7.975,"i":4.25,"v":130},{"b":7.975,"i":3.75,"v":115},{"b":7.975,"i":3.25,"v":95},{"b":7.975,"i":2.75,"v":52},{"b":7.975,"i":2.25,"v":12},{"b":7.975,"i":1.75,"v":3},{"b":7.975,"i":1.25,"v":3},{"b":7.975,"i":0.75,"v":3},{"b":7.975,"i":0.25,"v":3},{"b":7.975,"i":-0.25,"v":3},{"b":7.975,"i":-0.75,"v":3},{"b":7.975,"i":-1.25,"v":3},{"b":7.975,"i":-1.75,"v":3},{"b":7.975,"i":-2.25,"v":-21},{"b":7.975,"i":-2.75,"v":-57},{"b":7.975,"i":-3.25,"v":-68},{"b":7.975,"i":-3.75,"v":-76},{"b":7.975,"i":-4.25,"v":-86},{"b":7.975,"i":-4.75,"v":-98},{"b":7.975,"i":-5.25,"v":-114},{"b":7.975,"i":-5.75,"v":-140}
]},
"layer":[
{"mark":{"type":"rect","width":{"band":1.12},"height":{"band":1.1},"clip":true},
 "encoding":{
  "x":{"field":"b","type":"ordinal","scale":{"paddingInner":0,"paddingOuter":0},"axis":null},
  "y":{"field":"i","type":"ordinal","sort":"descending","scale":{"paddingInner":0,"paddingOuter":0},"axis":null},
  "color":{"field":"v","type":"quantitative",
   "scale":{"domain":[-186,-143,-104,-64.4,-24.9,14.7,54.2,93.7,133,169],"range":["#ffffff","#f2f2f2","#c8c8c8","#a3a3a3","#858585","#6c6c6c","#525252","#3c3c3c","#2e2e2e","#262626"]},
   "legend":{"type":"gradient","orient":"none","legendX":341,"legendY":-21,"direction":"vertical","title":"Voltage (μV)","titleFontSize":16.5,"titleAnchor":"middle","titleAlign":"center","titlePadding":17,"titleColor":"#111","gradientLength":214,"gradientThickness":19,"gradientStrokeWidth":0,"values":[166,133,93.7,54.2,14.7,-24.9,-64.4,-104,-143,-183],"labelExpr":"''+datum.value","labelFontSize":14,"labelOffset":7,"labelBaseline":"middle","labelOverlap":false,"labelColor":"#111"}}}},
{"mark":{"type":"point","opacity":0},
 "encoding":{
  "x":{"field":"b","type":"quantitative","scale":{"domain":[6,8],"nice":false,"zero":false},
   "axis":{"orient":"bottom","values":[6,6.25,6.5,6.75,7,7.25,7.5,7.75,8],"tickSize":-5,"labelPadding":16,"labelFontSize":16,"labelExpr":"datum.value*2 % 1 === 0 ? format(datum.value,'.1f') : ''","labelFlush":false,"labelOverlap":false,"title":"Magnetic field (gauss)","titleFontSize":19,"titlePadding":9}},
  "y":{"field":"i","type":"quantitative","scale":{"domain":[-6,6],"nice":false,"zero":false},
   "axis":{"orient":"left","values":[-6,-5,-4,-3,-2,-1,0,1,2,3,4,5,6],"tickSize":-5,"labelPadding":17,"labelFontSize":16,"labelExpr":"datum.value % 2 === 0 ? ''+datum.value : ''","labelFlush":false,"labelOverlap":false,"title":"Current (μA)","titleFontSize":19,"titlePadding":18,"titleY":142}}}},
{"data":{"values":[{}]},
 "mark":{"type":"text","text":"(b)","fontSize":20,"fontWeight":"bold","color":"#111"},
 "encoding":{
  "x":{"datum":7.785,"type":"quantitative","scale":{"domain":[6,8],"nice":false,"zero":false},"axis":null},
  "y":{"datum":-4.46,"type":"quantitative","scale":{"domain":[-6,6],"nice":false,"zero":false},"axis":null}}}
],
"resolve":{"scale":{"x":"independent","y":"independent"}}
}
],
"config":{
 "font":"Liberation Serif",
 "axis":{"grid":false,"domain":false,"labelFont":"Liberation Serif","titleFont":"Liberation Serif","titleFontWeight":"normal","labelColor":"#111","titleColor":"#111","tickColor":"#111","tickWidth":1},
 "legend":{"labelFont":"Liberation Serif","titleFont":"Liberation Serif","titleFontWeight":"normal"},
 "text":{"font":"Liberation Serif"},
 "view":{"stroke":"#111","strokeWidth":1.6}
}
}
